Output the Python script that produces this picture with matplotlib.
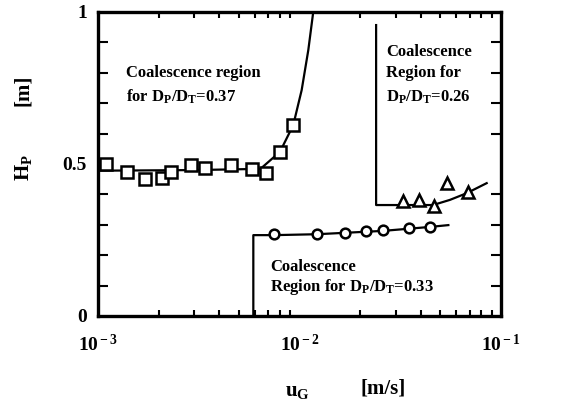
import matplotlib
matplotlib.use("Agg")
from matplotlib import pyplot as plt
from matplotlib.ticker import FixedLocator, LogLocator, NullFormatter

# Dp/DT = 0.37 (squares)
ug_037 = [1.10e-3, 1.39e-3, 1.72e-3, 2.08e-3, 2.30e-3, 2.88e-3, 3.38e-3,
          4.56e-3, 5.79e-3, 6.82e-3, 8.00e-3, 9.31e-3]
hp_037 = [0.500, 0.475, 0.451, 0.453, 0.475, 0.497, 0.486, 0.497, 0.484,
          0.469, 0.540, 0.628]
curve_ug_037 = [1.0e-3, 3.0e-3, 6.4e-3, 8.0e-3, 9.31e-3, 1.025e-2, 1.106e-2,
                1.17e-2]
curve_hp_037 = [0.478, 0.480, 0.484, 0.540, 0.628, 0.743, 0.875, 1.0]

# Dp/DT = 0.33 (circles)
ug_033 = [7.50e-3, 1.22e-2, 1.68e-2, 2.14e-2, 2.61e-2, 3.51e-2, 4.44e-2]
hp_033 = [0.269, 0.269, 0.274, 0.281, 0.283, 0.291, 0.294]
curve_ug_033 = [5.9e-3, 5.9e-3, 7.5e-3, 1.22e-2, 2.6e-2, 4.44e-2, 5.48e-2]
curve_hp_033 = [0.0, 0.266, 0.266, 0.269, 0.280, 0.293, 0.299]

# Dp/DT = 0.26 (triangles)
ug_026 = [3.27e-2, 3.93e-2, 4.65e-2, 5.38e-2, 6.83e-2]
hp_026 = [0.378, 0.382, 0.362, 0.438, 0.408]
curve_ug_026 = [2.40e-2, 2.40e-2, 4.6e-2, 5.58e-2, 6.76e-2, 8.49e-2]
curve_hp_026 = [0.957, 0.365, 0.365, 0.382, 0.404, 0.437]

serif = "Liberation Serif"
plt.rcParams["font.family"] = serif
plt.rcParams["font.weight"] = "bold"
plt.rcParams["mathtext.fontset"] = "custom"
plt.rcParams["mathtext.rm"] = serif + ":bold"
plt.rcParams["mathtext.it"] = serif + ":bold"
plt.rcParams["mathtext.bf"] = serif + ":bold"

fig = plt.figure(figsize=(5.62, 4.03), dpi=100)
ax = fig.add_axes([98 / 562, 1 - 316 / 403, 403 / 562, 304 / 403])

ax.plot(curve_ug_037, curve_hp_037, "-", color="black", lw=1.6)
ax.plot(curve_ug_033, curve_hp_033, "-", color="black", lw=1.6)
ax.plot(curve_ug_026, curve_hp_026, "-", color="black", lw=1.6)

ax.plot(ug_037, hp_037, "s", ms=9, mfc="white", mec="black", mew=1.8)
ax.plot(ug_033, hp_033, "o", ms=7, mfc="white", mec="black", mew=1.8)
ax.plot(ug_026, hp_026, "^", ms=8, mfc="white", mec="black", mew=1.8)

ax.set_xscale("log")
ax.set_xlim(1e-3, 1e-1)
ax.set_ylim(0, 1)

ax.xaxis.set_major_locator(FixedLocator([1e-3, 1e-2, 1e-1]))
ax.xaxis.set_minor_locator(LogLocator(base=10, subs=range(2, 10)))
ax.xaxis.set_minor_formatter(NullFormatter())
ax.set_xticklabels([r"10$^{\,\mathrm{-\,3}}$", r"10$^{\,\mathrm{-\,2}}$",
                    r"10$^{\,\mathrm{-\,1}}$"])
ax.yaxis.set_major_locator(FixedLocator([0, 0.5, 1]))
ax.yaxis.set_minor_locator(FixedLocator([0.1, 0.2, 0.3, 0.4, 0.6, 0.7,
                                         0.8, 0.9]))
ax.set_yticklabels(["0", "0.5", "1"])

ax.tick_params(which="both", direction="in", top=True, right=True,
               labelsize=14, width=1.5)
ax.tick_params(which="major", length=0)
ax.tick_params(axis="x", which="major", pad=13)
ax.tick_params(axis="y", which="major", pad=8)
ax.tick_params(axis="y", which="minor", length=7)
ax.tick_params(axis="x", which="minor", length=4)
for spine in ax.spines.values():
    spine.set_linewidth(2.4)

# axis titles, placed in pixel positions of the figure
fig.text(297 / 562, 1 - 391 / 403, r"u$_{\mathrm{G}}$", fontsize=15,
         ha="center", va="center")
fig.text(383 / 562, 1 - 389 / 403, "[m/s]", fontsize=15,
         ha="center", va="center")
fig.text(23 / 562, 1 - 168 / 403, r"H$_{\mathrm{P}}$", fontsize=15,
         ha="center", va="center", rotation=90)
fig.text(23 / 562, 1 - 90 / 403, "[m]", fontsize=15,
         ha="center", va="center", rotation=90)

ax.text(1.38e-3, 0.80, "Coalescence region", fontsize=12, ha="left",
        va="center")
ax.text(1.38e-3, 0.72, r"for D$_{\mathrm{P}}$/D$_{\mathrm{T}}$=0.37",
        fontsize=12, ha="left", va="center")
ax.text(2.7e-2, 0.87, "Coalescence", fontsize=12, ha="left", va="center")
ax.text(2.7e-2, 0.80, "Region for", fontsize=12, ha="left", va="center")
ax.text(2.7e-2, 0.72, r"D$_{\mathrm{P}}$/D$_{\mathrm{T}}$=0.26",
        fontsize=12, ha="left", va="center")
ax.text(7.15e-3, 0.16, "Coalescence", fontsize=12, ha="left", va="center")
ax.text(7.15e-3, 0.095,
        r"Region for D$_{\mathrm{P}}$/D$_{\mathrm{T}}$=0.33",
        fontsize=12, ha="left", va="center")

fig.savefig("out.png", dpi=100)
